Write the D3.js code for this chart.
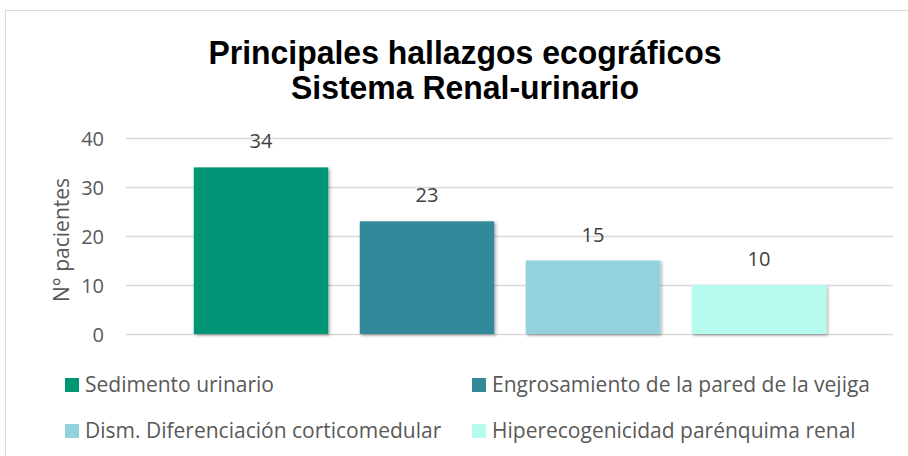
<!DOCTYPE html>
<html>
<head>
<meta charset="utf-8">
<script src="https://cdn.jsdelivr.net/npm/d3@7"></script>
<style>
  body { margin: 0; background: #fff; }
  text { font-family: "Open Sans", Lato, sans-serif; fill: #595959; }
</style>
</head>
<body>
<div id="chart"></div>
<script>
var categories = ['Sedimento urinario', 'Engrosamiento de la pared de la vejiga',
  'Dism. Diferenciación corticomedular', 'Hiperecogenicidad parénquima renal'];
var values = [34, 23, 15, 10];
var colors = ['#009575', '#31899A', '#93D2DC', '#B6FCEE'];
var yTicks = [0, 10, 20, 30, 40];
var titleLines = ['Principales hallazgos ecográficos', 'Sistema Renal-urinario'];

var svg = d3.select('#chart').append('svg')
  .attr('width', 908)
  .attr('height', 456);

var defs = svg.append('defs');
var shadow = defs.append('filter').attr('id', 'shadow')
  .attr('x', '-10%').attr('y', '-10%').attr('width', '120%').attr('height', '120%');
shadow.append('feDropShadow')
  .attr('dx', 1.5).attr('dy', 1.5).attr('stdDeviation', 1.5)
  .attr('flood-color', '#000').attr('flood-opacity', 0.35);

// chart area border
svg.append('rect')
  .attr('x', 5.5).attr('y', 10.5)
  .attr('width', 930).attr('height', 470)
  .attr('fill', 'none').attr('stroke', '#d9d9d9');

// title: a bit condensed, like the original
svg.append('g')
  .attr('transform', 'translate(465,0) scale(0.94,1)')
  .selectAll('text.title').data(titleLines)
  .enter().append('text')
  .attr('class', 'title')
  .attr('x', 0)
  .attr('y', function(d, i) { return 64 + i * 35; })
  .attr('text-anchor', 'middle')
  .style('font-family', '"Liberation Sans", Arial, sans-serif')
  .style('font-weight', 'bold')
  .style('font-size', '34px')
  .style('fill', '#000')
  .text(function(d) { return d; });

var y = d3.scaleLinear().domain([0, 40]).range([334, 138]);
var x = d3.scaleBand().domain(categories).range([178, 842]).paddingInner(0.19).paddingOuter(0.095);

var grid = svg.append('g');
grid.selectAll('line').data(yTicks)
  .enter().append('line')
  .attr('x1', 126).attr('x2', 893)
  .attr('y1', function(d) { return Math.round(y(d)) + 0.5; })
  .attr('y2', function(d) { return Math.round(y(d)) + 0.5; })
  .attr('stroke', '#d9d9d9').attr('stroke-width', 1.3);

var yAxis = svg.append('g')
  .attr('transform', 'translate(104,0)')
  .call(d3.axisLeft(y).tickValues(yTicks).tickSize(0).tickPadding(0));
yAxis.select('.domain').remove();
yAxis.selectAll('text')
  .style('font-family', '"Open Sans", sans-serif')
  .style('font-size', '20px')
  .attr('dy', '0.35em')
  .style('fill', '#595959');

svg.append('text')
  .attr('transform', 'translate(62,240) rotate(-90)')
  .attr('text-anchor', 'middle')
  .attr('dy', '0.35em')
  .style('font-size', '21px')
  .text('N° pacientes');

svg.append('g').selectAll('rect').data(values)
  .enter().append('rect')
  .attr('x', function(d, i) { return x(categories[i]); })
  .attr('y', function(d) { return y(d); })
  .attr('width', x.bandwidth())
  .attr('height', function(d) { return y(0) - y(d); })
  .attr('fill', function(d, i) { return colors[i]; })
  .attr('filter', 'url(#shadow)');

svg.append('g').selectAll('text').data(values)
  .enter().append('text')
  .attr('x', function(d, i) { return x(categories[i]) + x.bandwidth() / 2; })
  .attr('y', function(d) { return y(d) - 19; })
  .attr('text-anchor', 'middle')
  .style('font-size', '20px')
  .style('fill', '#404040')
  .text(function(d) { return d; });

var legend = svg.append('g').selectAll('g').data(categories)
  .enter().append('g')
  .attr('transform', function(d, i) {
    return 'translate(' + (i % 2 === 0 ? 65 : 472) + ',' + (i < 2 ? 385 : 431) + ')';
  });
legend.append('rect')
  .attr('x', 0).attr('y', -7).attr('width', 14).attr('height', 14)
  .attr('fill', function(d, i) { return colors[i]; });
legend.append('text')
  .attr('x', 20).attr('dy', '0.35em')
  .style('font-size', '21px')
  .text(function(d) { return d; });
</script>
</body>
</html>
